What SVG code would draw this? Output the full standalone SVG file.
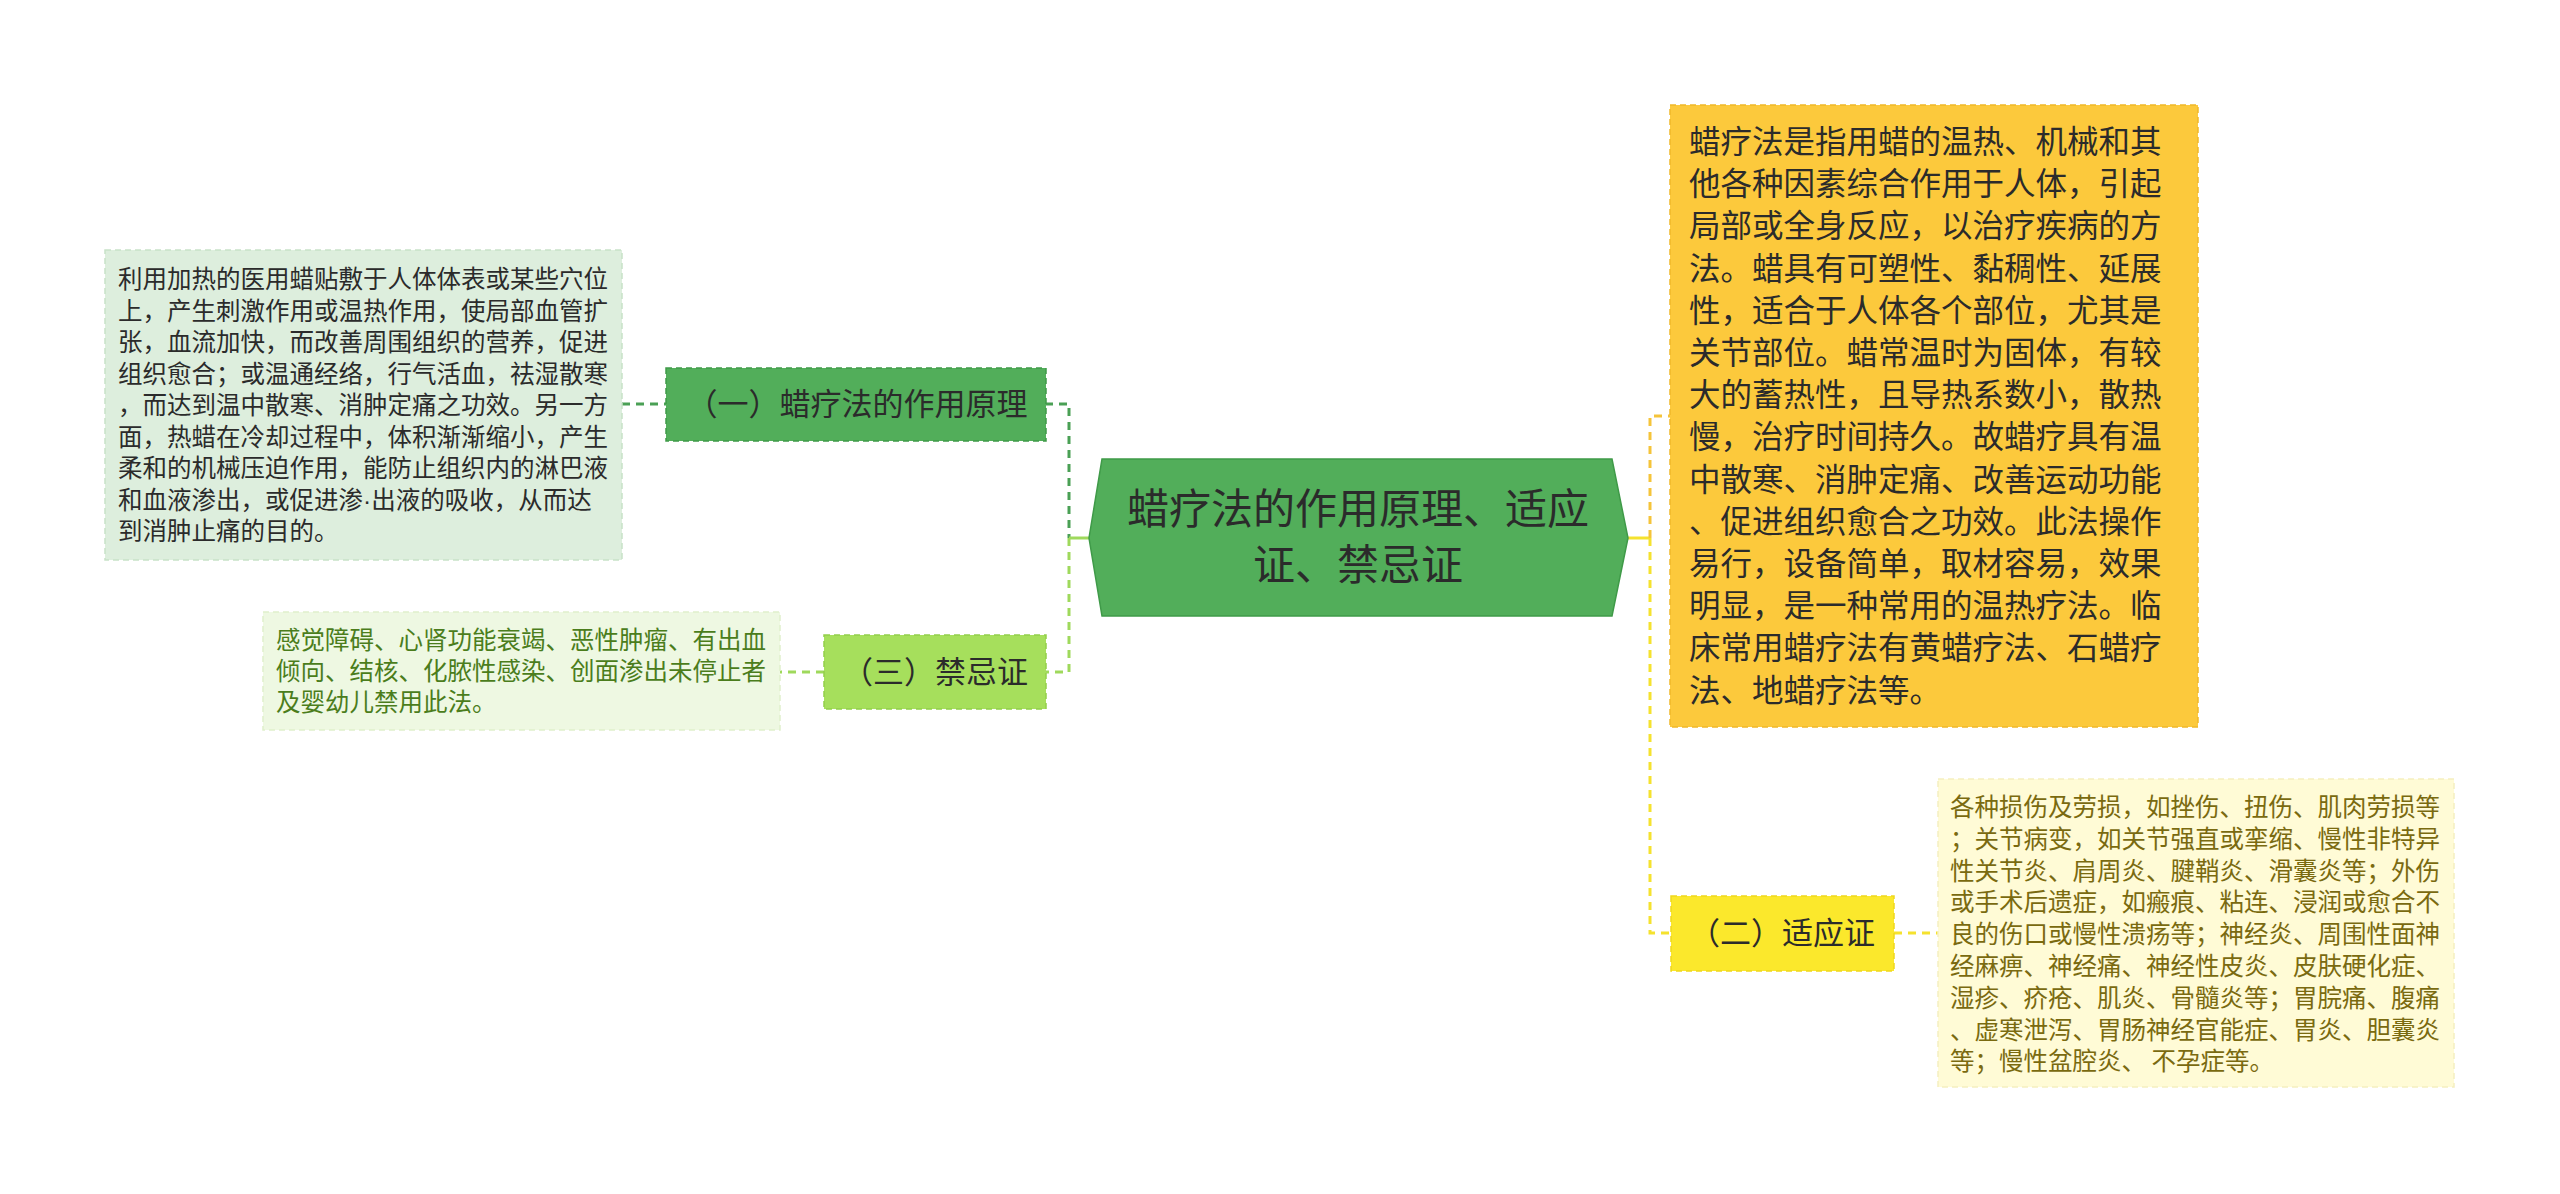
<svg xmlns="http://www.w3.org/2000/svg" width="2560" height="1194" viewBox="0 0 2560 1194">
<style>
text{font-family:"Noto Sans CJK SC","Noto Sans",sans-serif;}
.t1{font-size:24.5px;fill:#2b2b2b;}
.t3{font-size:24.5px;fill:#4b7d1c;}
.t2{font-size:24.5px;fill:#7a6a10;}
.ty{font-size:31.5px;fill:#2b2b2b;}
.tn{font-size:31px;fill:#2b2b2b;text-anchor:middle;}
.tm{font-size:42px;fill:#2b2b2b;text-anchor:middle;}
.lat{font-family:"Liberation Sans",sans-serif;}
.dash{fill:none;stroke-width:3;stroke-dasharray:8 6;}
.solid{fill:none;stroke-width:3;}
</style>
<rect width="2560" height="1194" fill="#ffffff"/>
<g id="connectors">
  <path class="dash" stroke="#4aa055" d="M622 404 H666"/>
  <path class="dash" stroke="#4aa055" d="M1045 404 H1069 V538"/>
  <path class="solid" stroke="#9fd95c" d="M1089 538 H1069"/>
  <path class="dash" stroke="#9fd95c" d="M1069 538 V672 H1045"/>
  <path class="dash" stroke="#9fd95c" d="M824 672 H780"/>
  <path class="solid" stroke="#f5e22e" d="M1628 538 H1650"/>
  <path class="dash" stroke="#f5c43a" d="M1650 538 V416 H1670"/>
  <path class="dash" stroke="#f5e22e" d="M1650 538 V933 H1671"/>
  <path class="dash" stroke="#f5e22e" d="M1894 933 H1938"/>
</g>
<g id="main">
  <polygon points="1102,459 1612,459 1628,538 1612,616 1102,616 1089,538" fill="#52ae5a" stroke="#3f9a48" stroke-width="1.5"/>
  <text class="tm" x="1358" y="524">蜡疗法的作用原理、适应</text>
  <text class="tm" x="1358" y="580">证、禁忌证</text>
</g>
<g id="n1">
  <rect x="666" y="368" width="380" height="73" fill="#52ae5a" stroke="#3f9a48" stroke-width="1.5" stroke-dasharray="6 4"/>
  <text class="tn" x="857" y="415">（一）蜡疗法的作用原理</text>
</g>
<g id="n1text">
  <rect x="105" y="250" width="517" height="310" fill="#ddeedd" stroke="#c8e2c8" stroke-width="1.5" stroke-dasharray="6 4"/>
  <text class="t1" x="118" y="288">利用加热的医用蜡贴敷于人体体表或某些穴位</text>
  <text class="t1" x="118" y="319.5">上，产生刺激作用或温热作用，使局部血管扩</text>
  <text class="t1" x="118" y="351">张，血流加快，而改善周围组织的营养，促进</text>
  <text class="t1" x="118" y="382.5">组织愈合；或温通经络，行气活血，祛湿散寒</text>
  <text class="t1" x="118" y="414">，而达到温中散寒、消肿定痛之功效。另一方</text>
  <text class="t1" x="118" y="445.5">面，热蜡在冷却过程中，体积渐渐缩小，产生</text>
  <text class="t1" x="118" y="477">柔和的机械压迫作用，能防止组织内的淋巴液</text>
  <text class="t1" x="118" y="508.5">和血液渗出，或促进渗<tspan class="lat">·</tspan>出液的吸收，从而达</text>
  <text class="t1" x="118" y="540">到消肿止痛的目的。</text>
</g>
<g id="n3">
  <rect x="824" y="635" width="222" height="74" fill="#a6df5c" stroke="#93cf4a" stroke-width="1.5" stroke-dasharray="6 4"/>
  <text class="tn" x="935" y="683">（三）禁忌证</text>
</g>
<g id="n3text">
  <rect x="263" y="612" width="517" height="118" fill="#eef8e2" stroke="#e0f0cc" stroke-width="1.5" stroke-dasharray="6 4"/>
  <text class="t3" x="276" y="649">感觉障碍、心肾功能衰竭、恶性肿瘤、有出血</text>
  <text class="t3" x="276" y="680">倾向、结核、化脓性感染、创面渗出未停止者</text>
  <text class="t3" x="276" y="711">及婴幼儿禁用此法。</text>
</g>
<g id="ny">
  <rect x="1670" y="105" width="528" height="622" fill="#fcc93c" stroke="#f0b828" stroke-width="1.5" stroke-dasharray="6 4"/>
  <text class="ty" x="1689" y="153">蜡疗法是指用蜡的温热、机械和其</text>
  <text class="ty" x="1689" y="195.2">他各种因素综合作用于人体，引起</text>
  <text class="ty" x="1689" y="237.4">局部或全身反应，以治疗疾病的方</text>
  <text class="ty" x="1689" y="279.6">法。蜡具有可塑性、黏稠性、延展</text>
  <text class="ty" x="1689" y="321.8">性，适合于人体各个部位，尤其是</text>
  <text class="ty" x="1689" y="364">关节部位。蜡常温时为固体，有较</text>
  <text class="ty" x="1689" y="406.2">大的蓄热性，且导热系数小，散热</text>
  <text class="ty" x="1689" y="448.4">慢，治疗时间持久。故蜡疗具有温</text>
  <text class="ty" x="1689" y="490.6">中散寒、消肿定痛、改善运动功能</text>
  <text class="ty" x="1689" y="532.8">、促进组织愈合之功效。此法操作</text>
  <text class="ty" x="1689" y="575">易行，设备简单，取材容易，效果</text>
  <text class="ty" x="1689" y="617.2">明显，是一种常用的温热疗法。临</text>
  <text class="ty" x="1689" y="659.4">床常用蜡疗法有黄蜡疗法、石蜡疗</text>
  <text class="ty" x="1689" y="701.6">法、地蜡疗法等。</text>
</g>
<g id="n2">
  <rect x="1671" y="896" width="223" height="75" fill="#fbe82c" stroke="#efd81c" stroke-width="1.5" stroke-dasharray="6 4"/>
  <text class="tn" x="1782" y="944">（二）适应证</text>
</g>
<g id="n2text">
  <rect x="1938" y="779" width="516" height="308" fill="#fffbd6" stroke="#f5efc0" stroke-width="1.5" stroke-dasharray="6 4"/>
  <text class="t2" x="1950" y="816">各种损伤及劳损，如挫伤、扭伤、肌肉劳损等</text>
  <text class="t2" x="1950" y="847.8">；关节病变，如关节强直或挛缩、慢性非特异</text>
  <text class="t2" x="1950" y="879.6">性关节炎、肩周炎、腱鞘炎、滑囊炎等；外伤</text>
  <text class="t2" x="1950" y="911.4">或手术后遗症，如瘢痕、粘连、浸润或愈合不</text>
  <text class="t2" x="1950" y="943.2">良的伤口或慢性溃疡等；神经炎、周围性面神</text>
  <text class="t2" x="1950" y="975">经麻痹、神经痛、神经性皮炎、皮肤硬化症、</text>
  <text class="t2" x="1950" y="1006.8">湿疹、疥疮、肌炎、骨髓炎等；胃脘痛、腹痛</text>
  <text class="t2" x="1950" y="1038.6">、虚寒泄泻、胃肠神经官能症、胃炎、胆囊炎</text>
  <text class="t2" x="1950" y="1070.4">等；慢性盆腔炎、 不孕症等。</text>
</g>
</svg>
